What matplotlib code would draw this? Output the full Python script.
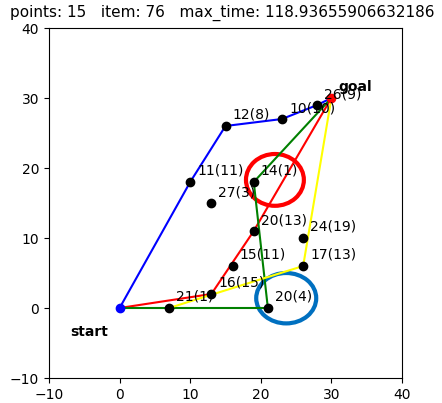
import matplotlib
matplotlib.use("Agg")
import matplotlib.pyplot as plt
from matplotlib.patches import Ellipse

title = "points: 15   item: 76   max_time: 118.93655906632186"

start = (0, 0)
goal = (30, 30)

pt_x = [7, 13, 16, 19, 13, 10, 19, 15, 23, 28, 26, 26, 21]
pt_y = [0, 2, 6, 11, 15, 18, 18, 26, 27, 29, 10, 6, 0]
pt_labels = ["21(1)", "16(15)", "15(11)", "20(13)", "27(3)", "11(11)", "14(1)",
             "12(8)", "10(10)", "26(9)", "24(19)", "17(13)", "20(4)"]

route_blue_x = [0, 10, 15, 23, 28, 30]
route_blue_y = [0, 18, 26, 27, 29, 30]
route_red_x = [0, 13, 19, 30]
route_red_y = [0, 2, 11, 30]
route_green_x = [0, 7, 21, 19, 30]
route_green_y = [0, 0, 0, 18, 30]
route_yellow_x = [7, 26, 30]
route_yellow_y = [0, 6, 30]

fig = plt.figure(figsize=(4.42, 4.03), dpi=100)
ax = fig.add_axes([49/442, 1 - 378/403, 353/442, 350/403])

ax.plot(route_blue_x, route_blue_y, color="blue")
ax.plot(route_red_x, route_red_y, color="red")
ax.plot(route_green_x, route_green_y, color="green")
ax.plot(route_yellow_x, route_yellow_y, color="yellow")

ax.plot(pt_x, pt_y, "o", color="black", linestyle="none")
for x, y, lab in zip(pt_x, pt_y, pt_labels):
    ax.text(x + 1, y + 1, lab, fontsize=10)

ax.plot([start[0]], [start[1]], "o", color="blue")
ax.plot([goal[0]], [goal[1]], "o", color="red")
ax.text(goal[0] + 1, goal[1] + 1, "goal", fontweight="bold", fontsize=10)
ax.text(start[0] - 7, start[1] - 4, "start", fontweight="bold", fontsize=10)

ax.add_patch(Ellipse((22.0, 18.3), 8.2, 7.4, fill=False, edgecolor="red", linewidth=3))
ax.add_patch(Ellipse((23.6, 1.4), 8.5, 7.2, fill=False, edgecolor="#0070C0", linewidth=3))

ax.set_xlim(-10, 40)
ax.set_ylim(-10, 40)
fig.text(222/442, 1 - 13/403, title, fontsize=11, ha="center", va="center")

fig.savefig("out.png", dpi=100)
